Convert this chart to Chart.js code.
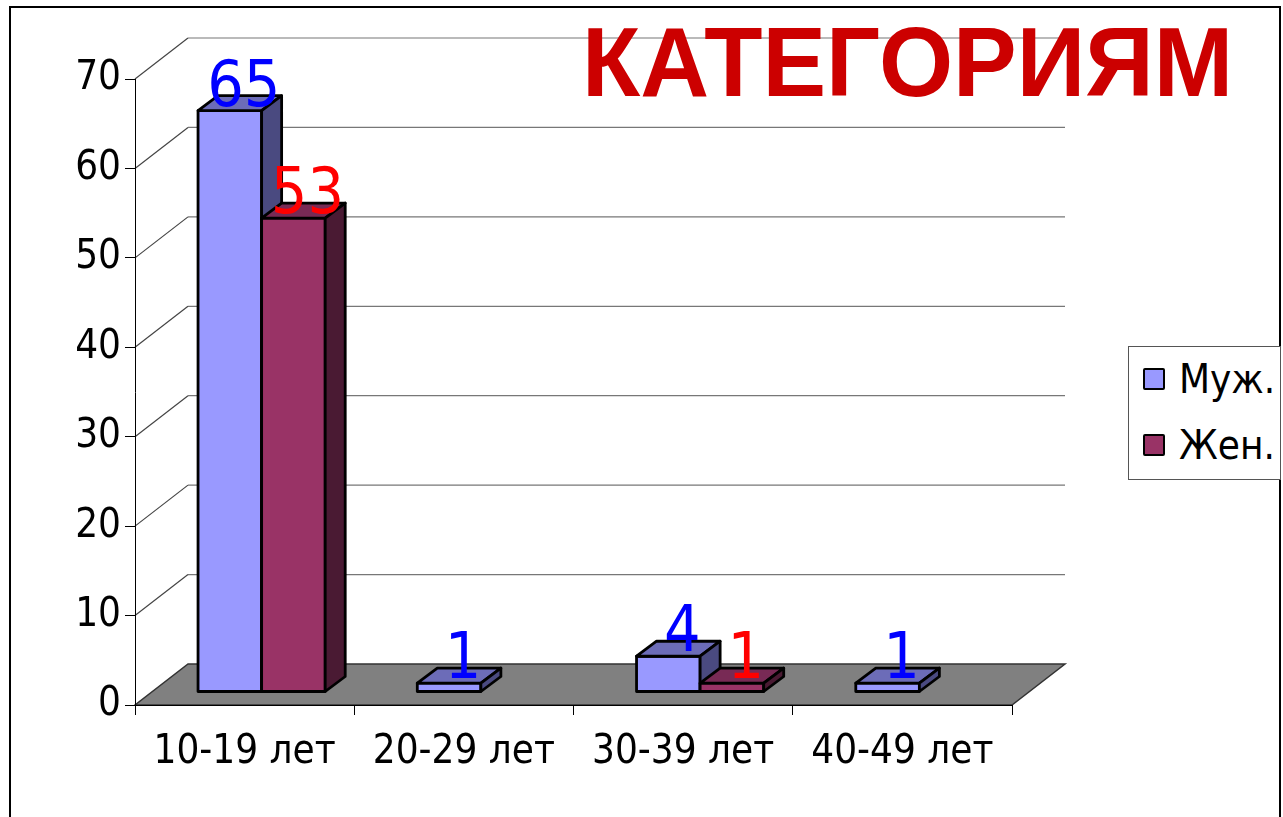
<!DOCTYPE html>
<html lang="ru">
<head>
    <meta charset="UTF-8">
    <title>Категориям</title>
    <script src="https://cdn.jsdelivr.net/npm/chart.js"></script>
    <style>
        html, body {
            margin: 0;
            padding: 0;
            width: 1283px;
            height: 817px;
            overflow: hidden;
            background: #fff;
        }
        .frame {
            position: absolute;
            left: 9px;
            top: 6px;
            width: 1272px;
            height: 830px;
            border: 2px solid #000;
            box-sizing: border-box;
        }
        #chart {
            position: absolute;
            left: 0;
            top: 0;
        }
        .title {
            position: absolute;
            left: 582px;
            top: 12px;
            font-family: 'Liberation Sans', Arial, sans-serif;
            font-weight: bold;
            font-size: 99px;
            line-height: 99px;
            color: #cc0000;
            white-space: nowrap;
            transform: scaleX(0.963);
            transform-origin: left top;
        }
        .legend {
            position: absolute;
            left: 1128px;
            top: 346px;
            width: 153px;
            height: 134px;
            border: 1px solid #555;
            box-sizing: border-box;
            background: #fff;
            font-family: 'DejaVu Sans Condensed', 'DejaVu Sans', sans-serif;
            font-size: 40px;
            overflow: hidden;
        }
        .legend-item {
            position: absolute;
            left: 14px;
            white-space: nowrap;
            line-height: 40px;
        }
        .legend-item span.box {
            display: inline-block;
            width: 18px;
            height: 18px;
            border: 2px solid #000;
            border-radius: 2px;
            margin-right: 14px;
            vertical-align: middle;
            position: relative;
            top: -3px;
        }
    </style>
</head>
<body>
    <div class="frame"></div>
    <canvas id="chart" width="1283" height="817"></canvas>
    <div class="title" id="title">КАТЕГОРИЯМ</div>
    <div class="legend" id="legend"></div>

    <script>
        // данные диаграммы
        const categories = ['10-19 лет', '20-29 лет', '30-39 лет', '40-49 лет'];
        const seriesNames = ['Муж.', 'Жен.'];
        const maleValues = [65, 1, 4, 1];
        const femaleValues = [53, null, 1, null];
        const yMax = 70;
        const yStep = 10;

        const frontColors = ['#9999ff', '#993366'];
        const topColors = ['#6c6cb8', '#782a55'];
        const sideColors = ['#4a4a80', '#4a1a33'];
        const labelColors = ['#0000ff', '#ff0000'];

        const FONT = "'DejaVu Sans Condensed', 'DejaVu Sans', sans-serif";

        // смещения для псевдо-3D
        const wallDepth = { x: 53, y: -41 };
        const barShift = { x: 17, y: -13 };
        const barDepth = { x: 20, y: -15 };

        const walls3d = {
            id: 'walls3d',
            beforeDraw(chart) {
                const ctx = chart.ctx;
                const area = chart.chartArea;
                const yScale = chart.scales.y;
                ctx.save();

                // пол
                const y0 = yScale.getPixelForValue(0);
                ctx.beginPath();
                ctx.moveTo(area.left, y0);
                ctx.lineTo(area.right, y0);
                ctx.lineTo(area.right + wallDepth.x, y0 + wallDepth.y);
                ctx.lineTo(area.left + wallDepth.x, y0 + wallDepth.y);
                ctx.closePath();
                ctx.fillStyle = '#808080';
                ctx.fill();
                ctx.lineWidth = 1.5;
                ctx.strokeStyle = '#333';
                ctx.stroke();

                // линии сетки на задней стенке и на боковой
                ctx.lineWidth = 1.2;
                for (let v = yStep; v <= yMax; v += yStep) {
                    const y = yScale.getPixelForValue(v);
                    ctx.strokeStyle = '#777';
                    ctx.beginPath();
                    ctx.moveTo(area.left + wallDepth.x, y + wallDepth.y);
                    ctx.lineTo(area.right + wallDepth.x, y + wallDepth.y);
                    ctx.stroke();
                    ctx.strokeStyle = '#444';
                    ctx.beginPath();
                    ctx.moveTo(area.left, y);
                    ctx.lineTo(area.left + wallDepth.x, y + wallDepth.y);
                    ctx.stroke();
                }
                ctx.restore();
            },
            beforeDatasetsDraw(chart) {
                const ctx = chart.ctx;
                ctx.save();
                ctx.lineJoin = 'round';
                ctx.lineWidth = 2.8;
                ctx.strokeStyle = '#000';
                for (let i = 0; i < categories.length; i++) {
                    chart.data.datasets.forEach((ds, d) => {
                        if (ds.data[i] == null) return;
                        const bar = chart.getDatasetMeta(d).data[i];
                        const l = bar.x - bar.width / 2 + barShift.x;
                        const r = bar.x + bar.width / 2 + barShift.x;
                        const t = bar.y + barShift.y;
                        const b = bar.base + barShift.y;

                        ctx.fillStyle = frontColors[d];
                        ctx.beginPath();
                        ctx.rect(l, t, r - l, b - t);
                        ctx.fill();
                        ctx.stroke();

                        ctx.fillStyle = topColors[d];
                        ctx.beginPath();
                        ctx.moveTo(l, t);
                        ctx.lineTo(r, t);
                        ctx.lineTo(r + barDepth.x, t + barDepth.y);
                        ctx.lineTo(l + barDepth.x, t + barDepth.y);
                        ctx.closePath();
                        ctx.fill();
                        ctx.stroke();

                        ctx.fillStyle = sideColors[d];
                        ctx.beginPath();
                        ctx.moveTo(r, t);
                        ctx.lineTo(r + barDepth.x, t + barDepth.y);
                        ctx.lineTo(r + barDepth.x, b + barDepth.y);
                        ctx.lineTo(r, b);
                        ctx.closePath();
                        ctx.fill();
                        ctx.stroke();
                    });
                }
                ctx.restore();
                return false; // столбики уже нарисованы
            },
            afterDraw(chart) {
                const ctx = chart.ctx;
                ctx.save();
                ctx.font = '64px ' + FONT;
                ctx.textAlign = 'center';
                ctx.textBaseline = 'alphabetic';
                chart.data.datasets.forEach((ds, d) => {
                    const meta = chart.getDatasetMeta(d);
                    ds.data.forEach((v, i) => {
                        if (v == null) return;
                        const bar = meta.data[i];
                        ctx.fillStyle = labelColors[d];
                        ctx.fillText(String(v), bar.x + barShift.x + 14, bar.y + barShift.y - 5);
                    });
                });
                ctx.restore();
            }
        };

        const chart = new Chart(document.getElementById('chart'), {
            type: 'bar',
            data: {
                labels: categories,
                datasets: [
                    { label: seriesNames[0], data: maleValues, backgroundColor: frontColors[0] },
                    { label: seriesNames[1], data: femaleValues, backgroundColor: frontColors[1] }
                ]
            },
            options: {
                responsive: false,
                animation: false,
                layout: { padding: { left: 0, right: 271, top: 79, bottom: 0 } },
                datasets: {
                    bar: { categoryPercentage: 0.58, barPercentage: 1, skipNull: false }
                },
                plugins: {
                    legend: { display: false },
                    title: { display: false },
                    tooltip: { enabled: false }
                },
                scales: {
                    x: {
                        grid: { offset: true, drawOnChartArea: false, tickLength: 10, color: '#000' },
                        border: { display: true, color: '#000' },
                        ticks: { color: '#000', padding: 14, maxRotation: 0, font: { family: FONT, size: 40 } },
                        afterFit(scale) { scale.height = 112; }
                    },
                    y: {
                        min: 0,
                        max: yMax,
                        grid: { drawOnChartArea: false, tickLength: 10, color: '#000' },
                        border: { display: true, color: '#000' },
                        ticks: { stepSize: yStep, color: '#000', padding: 4, font: { family: FONT, size: 40 } },
                        afterFit(scale) { scale.width = 135; }
                    }
                }
            },
            plugins: [walls3d]
        });

        // легенда
        const legend = document.getElementById('legend');
        chart.data.datasets.forEach((ds, d) => {
            const item = document.createElement('div');
            item.className = 'legend-item';
            item.style.top = (12 + d * 66) + 'px';
            item.innerHTML = `<span class="box" style="background:${ds.backgroundColor}"></span>${ds.label}`;
            legend.appendChild(item);
        });
    </script>
</body>
</html>
